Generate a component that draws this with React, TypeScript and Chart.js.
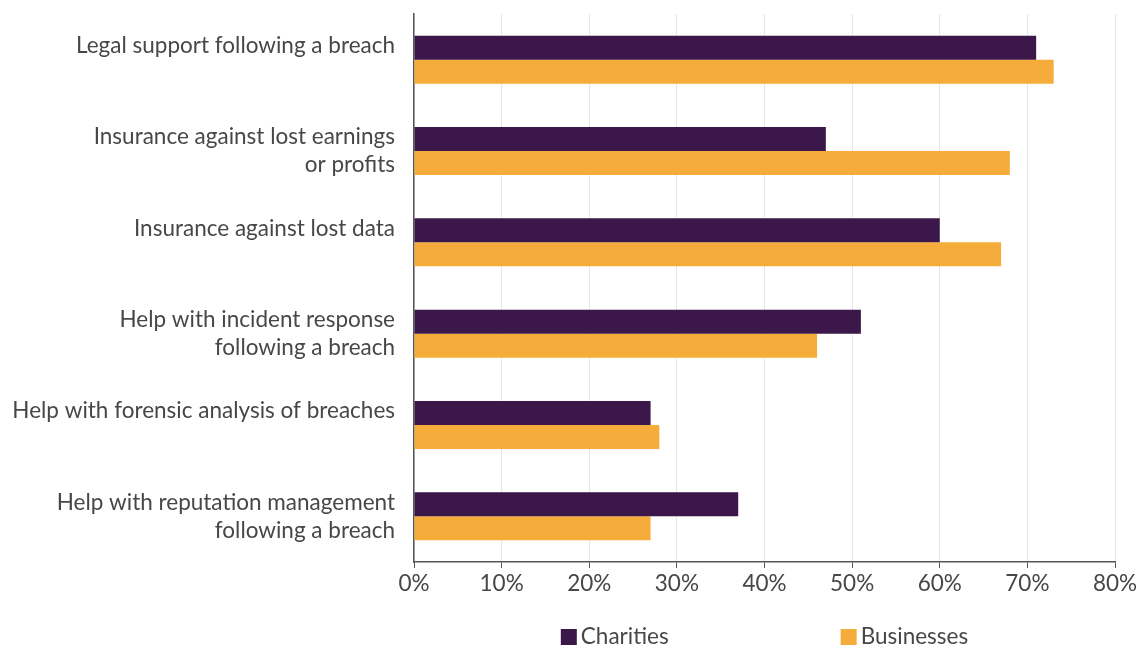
import React, { useEffect, useRef } from "react";
import { Chart, registerables } from "chart.js";

Chart.register(...registerables);

const categories: (string | string[])[] = [
  "Legal support following a breach",
  ["Insurance against lost earnings", "or profits"],
  "Insurance against lost data",
  ["Help with incident response", "following a breach"],
  "Help with forensic analysis of breaches",
  ["Help with reputation management", "following a breach"],
];
const seriesNames = ["Charities", "Businesses"];
const seriesColors = ["#3B174A", "#F6AC3A"];
const charities = [71, 47, 60, 51, 27, 37];
const businesses = [73, 68, 67, 46, 28, 27];
const xTicks = [0, 10, 20, 30, 40, 50, 60, 70, 80];

const FONT = "Lato";
const TEXT = "#474747";
const FS = 22.5;

const customLegend = {
  id: "customLegend",
  afterDraw(chart: any) {
    const ctx = chart.ctx;
    const area = chart.chartArea;
    ctx.save();
    ctx.font = `${FS}px ${FONT}`;
    const box = 16;
    const gapText = 4;
    const gapItems = 172;
    const widths = seriesNames.map((n) => ctx.measureText(n).width);
    const total = widths.reduce((a, w) => a + box + gapText + w, 0) + gapItems * (seriesNames.length - 1);
    let x = (area.left + area.right) / 2 - total / 2;
    const cy = 637;
    seriesNames.forEach((n, i) => {
      ctx.fillStyle = seriesColors[i];
      ctx.fillRect(x, cy - box / 2, box, box);
      ctx.fillStyle = TEXT;
      ctx.textBaseline = "middle";
      ctx.textAlign = "left";
      ctx.fillText(n, x + box + gapText, cy);
      x += box + gapText + widths[i] + gapItems;
    });
    ctx.restore();
  },
};

export default function App() {
  const ref = useRef<HTMLCanvasElement | null>(null);
  useEffect(() => {
    if (!ref.current) return;
    const chart = new Chart(ref.current, {
      type: "bar",
      data: {
        labels: categories,
        datasets: [
          {
            label: seriesNames[0],
            data: charities,
            backgroundColor: seriesColors[0],
            categoryPercentage: 0.525,
            barPercentage: 1,
          },
          {
            label: seriesNames[1],
            data: businesses,
            backgroundColor: seriesColors[1],
            categoryPercentage: 0.525,
            barPercentage: 1,
          },
        ],
      },
      options: {
        indexAxis: "y",
        animation: false,
        responsive: false,
        maintainAspectRatio: false,
        layout: { padding: { top: 14, right: 33, left: 0, bottom: 0 } },
        scales: {
          x: {
            min: 0,
            max: 80,
            afterBuildTicks: (axis: any) => {
              axis.ticks = xTicks.map((v) => ({ value: v }));
            },
            afterFit: (axis: any) => {
              axis.height = 648 - 562;
            },
            ticks: {
              callback: (v: any) => v + "%",
              color: TEXT,
              font: { family: FONT, size: FS },
              padding: 2,
              maxRotation: 0,
            },
            grid: {
              color: "#e6e6e6",
              lineWidth: 1,
              tickLength: 6,
              tickColor: "#555555",
            },
            border: { color: "#555555", width: 1.5 },
          },
          y: {
            afterFit: (axis: any) => {
              axis.width = 414;
              axis.paddingTop = 0;
              axis.paddingBottom = 0;
            },
            ticks: {
              color: TEXT,
              font: { family: FONT, size: FS, lineHeight: 1.25 },
              padding: 11,
              autoSkip: false,
              callback: function (this: any, _v: any, i: number) {
                const l = categories[i];
                return Array.isArray(l) ? l : [l, ""];
              },
            },
            grid: { display: false },
            border: { color: "#555555", width: 1.5 },
          },
        },
        plugins: {
          legend: { display: false },
          tooltip: { enabled: false },
        },
      },
      plugins: [customLegend],
    } as any);
    return () => chart.destroy();
  }, []);
  return (
    <div style={{ position: "fixed", left: 0, top: 0, width: 1148, height: 648, background: "#fff" }}>
      <canvas ref={ref} width={1148} height={648} style={{ width: 1148, height: 648 }} />
    </div>
  );
}
